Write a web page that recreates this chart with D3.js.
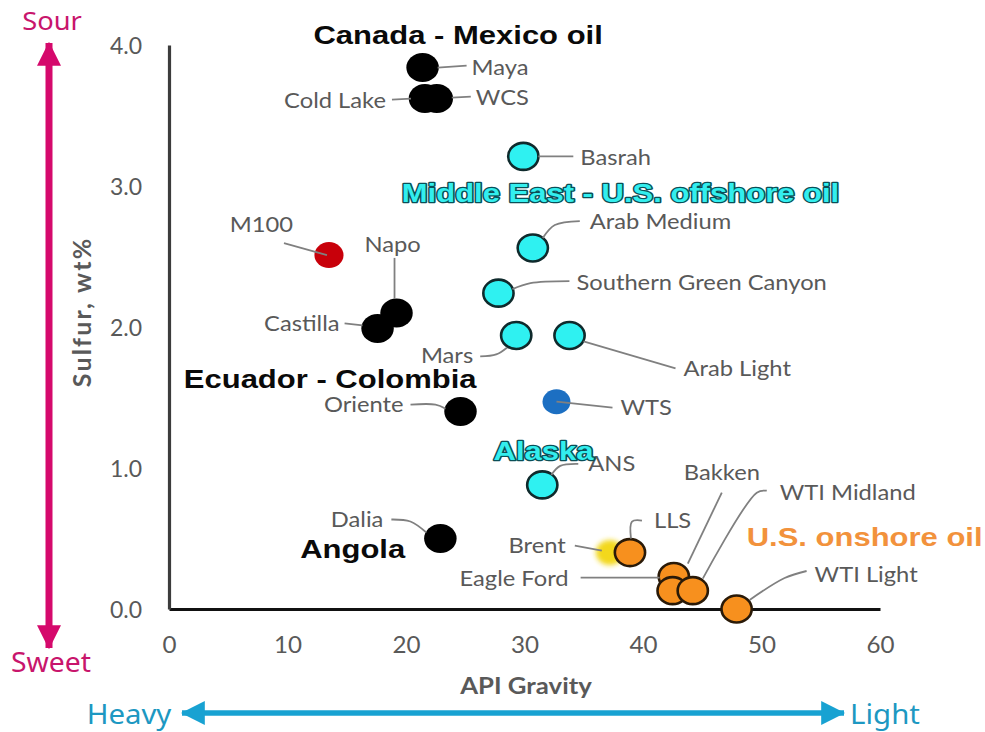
<!DOCTYPE html>
<html>
<head>
<meta charset="utf-8">
<script src="https://cdn.jsdelivr.net/npm/d3@7"></script>
<style>
  body { margin: 0; background: #fff; }
  svg { display: block; }
</style>
</head>
<body>
<svg id="chart" width="985" height="732"></svg>
<script>
// ---- crude oil quality data: API gravity vs. sulfur content ----
const crudes = ["Maya", "Cold Lake", "WCS", "Basrah", "Arab Medium", "M100", "Napo", "Castilla",
  "Southern Green Canyon", "Mars", "Arab Light", "Oriente", "WTS", "ANS", "Dalia", "Brent",
  "LLS", "Bakken", "Eagle Ford", "WTI Midland", "WTI Light"];
const apiGravity = [21.4, 21.6, 22.6, 29.9, 30.7, 13.5, 19.2, 17.6,
  27.8, 29.3, 33.8, 24.6, 32.7, 31.5, 22.9, 37.2,
  38.9, 42.6, 42.5, 44.2, 47.9];
const sulfur = [3.84, 3.62, 3.62, 3.21, 2.56, 2.51, 2.10, 1.99,
  2.24, 1.94, 1.94, 1.40, 1.47, 0.88, 0.50, 0.40,
  0.40, 0.23, 0.13, 0.13, 0.00];
const origin = ["heavy", "heavy", "heavy", "offshore", "offshore", "m100", "heavy", "heavy",
  "offshore", "offshore", "offshore", "heavy", "wts", "offshore", "heavy", "brent",
  "onshore", "onshore", "onshore", "onshore", "onshore"];

const xTicks = [0, 10, 20, 30, 40, 50, 60];
const yTicks = [0, 1, 2, 3, 4];

const groupNames = ["Canada - Mexico oil", "Middle East - U.S. offshore oil", "Ecuador - Colombia",
  "Alaska", "Angola", "U.S. onshore oil"];
const groupKinds = ["dark", "cyan", "dark", "cyan", "dark", "orange"];
// group title anchor (API gravity, sulfur) – centre of the baseline
const groupAnchorX = [24.4, 38.1, 13.6, 31.6, 15.5, 58.7];
const groupAnchorY = [4.01, 2.89, 1.57, 1.06, 0.36, 0.445];

// ---- styles ----
const markerStyle = {
  heavy:    { fill: "#000000", stroke: "none",    sw: 0,   r: 14.5 },
  offshore: { fill: "#2ff1f1", stroke: "#0f2a2c", sw: 2.6, r: 13.5 },
  m100:     { fill: "#c8000a", stroke: "none",    sw: 0,   r: 13 },
  wts:      { fill: "#1c6fc2", stroke: "none",    sw: 0,   r: 12.5 },
  brent:    { fill: "#f3d81c", stroke: "none",    sw: 0,   r: 12.5 },
  onshore:  { fill: "#f7901e", stroke: "#2a1a08", sw: 2.6, r: 13.5 }
};
const XSTRETCH = 1.12;          // horizontal stretch of marks and lettering
const labelFont = "Lato, 'Open Sans', sans-serif";
const grey = "#595959";

// label placement relative to the marker centre (pixels)
const labelLayout = {
  "Maya":                  { dx: 49,  dy: 0,    a: "start", lead: [[15, 0], [44, -2]] },
  "Cold Lake":             { dx: -39, dy: 2,    a: "end",   lead: [[-14, 0], [-33, 1]] },
  "WCS":                   { dx: 39,  dy: -1,   a: "start", lead: [[15, -1], [34, -2]] },
  "Basrah":                { dx: 57,  dy: 1,    a: "start", lead: [[15, 0], [50, 0]] },
  "Arab Medium":           { dx: 57,  dy: -26,  a: "start", lead: [[10, -10], [22, -23], [47, -27]] },
  "M100":                  { dx: -36, dy: -30,  a: "end",   lead: [[-45, -12], [-2, 0]] },
  "Napo":                  { dx: -4,  dy: -68,  a: "middle",lead: [[-2, -14], [-2, -55]] },
  "Castilla":              { dx: -38, dy: -5,   a: "end",   lead: [[-15, -3], [-33, -5]] },
  "Southern Green Canyon": { dx: 78,  dy: -11,  a: "start", lead: [[14, -4], [32, -10], [71, -12]] },
  "Mars":                  { dx: -43, dy: 20,   a: "end",   lead: [[-9, 12], [-20, 19], [-36, 21]] },
  "Arab Light":            { dx: 114, dy: 33,   a: "start", lead: [[14, 6], [106, 33]] },
  "Oriente":               { dx: -57, dy: -7,   a: "end",   lead: [[-15, -3], [-25, -7], [-50, -7]] },
  "WTS":                   { dx: 64,  dy: 6,    a: "start", lead: [[0, 0], [56, 6]] },
  "ANS":                   { dx: 46,  dy: -21,  a: "start", lead: [[9, -10], [18, -19], [36, -21]] },
  "Dalia":                 { dx: -57, dy: -19,  a: "end",   lead: [[-14, -6], [-30, -17], [-49, -19]] },
  "Brent":                 { dx: -44, dy: -7,   a: "end",   lead: [[-8, -2], [-35, -7]] },
  "LLS":                   { dx: 24,  dy: -32,  a: "start", lead: [[1, -14], [2, -31], [12, -32]] },
  "Bakken":                { dx: 10,  dy: -104, a: "start", lead: [[14, -13], [48, -84]] },
  "Eagle Ford":            { dx: -104,dy: -12,  a: "end",   lead: [[-13, -13], [-92, -13]] },
  "WTI Midland":           { dx: 87,  dy: -98,  a: "start", lead: [[10, -12], [64, -98], [74, -100]] },
  "WTI Light":             { dx: 78,  dy: -34,  a: "start", lead: [[13, -9], [48, -31], [70, -38]] }
};

const svg = d3.select("#chart");
const x = d3.scaleLinear().domain([0, 60]).range([169, 880]);
const y = d3.scaleLinear().domain([0, 4]).range([609, 45]);

const defs = svg.append("defs");
defs.append("filter").attr("id", "glow").attr("x", "-50%").attr("y", "-50%")
  .attr("width", "200%").attr("height", "200%")
  .append("feGaussianBlur").attr("stdDeviation", 2.4);
function arrowHead(id, color) {
  defs.append("marker").attr("id", id).attr("viewBox", "0 0 10 10")
    .attr("refX", 9.5).attr("refY", 5).attr("markerUnits", "userSpaceOnUse")
    .attr("markerWidth", 24).attr("markerHeight", 26).attr("orient", "auto-start-reverse")
    .append("path").attr("d", "M0,0 L10,5 L0,10 Z").attr("fill", color);
}
arrowHead("headPink", "#d5096c");
arrowHead("headBlue", "#18a2d2");

// stretched text helper
function addText(parent, px, py, str, sx) {
  return parent.append("text")
    .attr("transform", `translate(${px},${py}) scale(${sx},1)`)
    .text(str);
}

// ---- axes ----
const xAxis = svg.append("g").attr("transform", `translate(0,${y(0)})`)
  .call(d3.axisBottom(x).tickValues(xTicks).tickSize(0).tickFormat(d3.format("d")));
xAxis.select(".domain").attr("stroke", "#111").attr("stroke-width", 3.2);
xAxis.selectAll(".tick text").attr("y", 36).attr("dy", "0.35em")
  .attr("fill", grey).attr("font-family", labelFont).attr("font-size", 23)
  .attr("transform", "scale(1.05,1)");

const yAxis = svg.append("g").attr("transform", `translate(${x(0)},0)`)
  .call(d3.axisLeft(y).tickValues(yTicks).tickSize(0).tickFormat(d3.format(".1f")));
yAxis.select(".domain").attr("stroke", "#3c3c3c").attr("stroke-width", 3.2);
yAxis.selectAll(".tick text").attr("x", -27).attr("dy", "0.35em")
  .attr("fill", grey).attr("font-family", labelFont).attr("font-size", 23);

// axis titles
addText(svg, 526, 694, "API Gravity", 1.12)
  .attr("text-anchor", "middle").attr("fill", grey)
  .attr("font-family", labelFont).attr("font-weight", 700).attr("font-size", 23);
svg.append("text").attr("transform", "translate(91,312) rotate(-90)")
  .attr("text-anchor", "middle").attr("fill", grey)
  .attr("font-family", labelFont).attr("font-weight", 700).attr("font-size", 25)
  .attr("letter-spacing", 2.2)
  .text("Sulfur, wt%");

// ---- sour / sweet and heavy / light arrows ----
svg.append("line").attr("x1", 49).attr("x2", 49).attr("y1", 330).attr("y2", 43)
  .attr("stroke", "#d5096c").attr("stroke-width", 7).attr("marker-end", "url(#headPink)");
svg.append("line").attr("x1", 49).attr("x2", 49).attr("y1", 330).attr("y2", 648)
  .attr("stroke", "#d5096c").attr("stroke-width", 7).attr("marker-end", "url(#headPink)");
svg.append("line").attr("x1", 510).attr("x2", 182).attr("y1", 713).attr("y2", 713)
  .attr("stroke", "#18a2d2").attr("stroke-width", 5.5).attr("marker-end", "url(#headBlue)");
svg.append("line").attr("x1", 510).attr("x2", 844).attr("y1", 713).attr("y2", 713)
  .attr("stroke", "#18a2d2").attr("stroke-width", 5.5).attr("marker-end", "url(#headBlue)");

const edgeFont = "'Noto Sans', Lato, sans-serif";
addText(svg, 52, 30, "Sour", 1.05).attr("text-anchor", "middle").attr("fill", "#c8156c")
  .attr("font-family", edgeFont).attr("font-size", 26);
addText(svg, 51, 672, "Sweet", 1.05).attr("text-anchor", "middle").attr("fill", "#c8156c")
  .attr("font-family", edgeFont).attr("font-size", 27);
addText(svg, 129, 724, "Heavy", 1.05).attr("text-anchor", "middle").attr("fill", "#1d98c2")
  .attr("font-family", edgeFont).attr("font-size", 28);
addText(svg, 885, 724, "Light", 1.05).attr("text-anchor", "middle").attr("fill", "#1d98c2")
  .attr("font-family", edgeFont).attr("font-size", 28);

// ---- data points ----
const pts = crudes.map((name, i) => ({ name, api: apiGravity[i], s: sulfur[i], kind: origin[i] }));
const marks = svg.append("g");
marks.selectAll("ellipse").data(pts).join("ellipse")
  .attr("cx", d => x(d.api)).attr("cy", d => y(d.s))
  .attr("rx", d => markerStyle[d.kind].r * XSTRETCH).attr("ry", d => markerStyle[d.kind].r)
  .attr("fill", d => markerStyle[d.kind].fill)
  .attr("stroke", d => markerStyle[d.kind].stroke)
  .attr("stroke-width", d => markerStyle[d.kind].sw)
  .attr("filter", d => d.kind === "brent" ? "url(#glow)" : null);

// leader lines and crude names
const leaderLine = d3.line().curve(d3.curveCatmullRom.alpha(0.5));
const notes = svg.append("g");
pts.forEach(d => {
  const L = labelLayout[d.name];
  const cx = x(d.api), cy = y(d.s);
  notes.append("path")
    .attr("d", leaderLine(L.lead.map(p => [cx + p[0], cy + p[1]])))
    .attr("fill", "none").attr("stroke", "#808080").attr("stroke-width", 1.8);
  addText(notes, cx + L.dx, cy + L.dy, d.name, 1.13)
    .attr("dy", "0.35em").attr("text-anchor", L.a)
    .attr("fill", grey).attr("font-family", labelFont).attr("font-size", 21);
});

// ---- group titles ----
const titles = svg.append("g");
groupNames.forEach((t, i) => {
  const el = addText(titles, x(groupAnchorX[i]), y(groupAnchorY[i]), t, 1.24)
    .attr("text-anchor", "middle")
    .attr("font-family", "'Liberation Sans', Arial, sans-serif")
    .attr("font-weight", 700).attr("font-size", 25);
  if (groupKinds[i] === "dark") el.attr("fill", "#0a0a0a");
  if (groupKinds[i] === "orange") el.attr("fill", "#f2923c");
  if (groupKinds[i] === "cyan") el.attr("fill", "#33eeee").attr("stroke", "#0a4f57")
    .attr("stroke-width", 2.6).attr("stroke-linejoin", "round").attr("paint-order", "stroke");
});
</script>
</body>
</html>
